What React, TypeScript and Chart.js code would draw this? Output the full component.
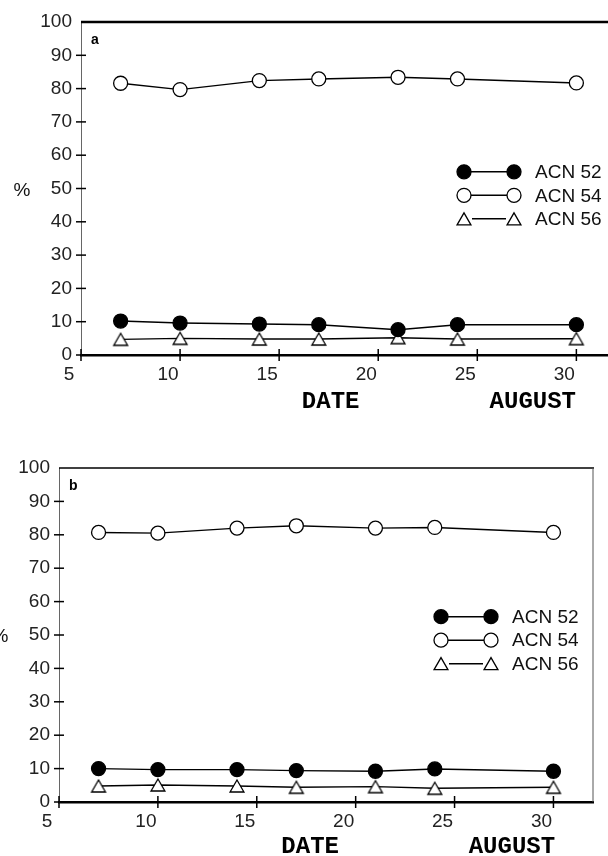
import React, { useEffect, useRef } from "react";
import { Chart, registerables } from "chart.js";

Chart.register(...registerables);

// ---- data ----
const DATES = [7, 10, 14, 17, 21, 24, 30];
const SERIES_NAMES = ["ACN 52", "ACN 54", "ACN 56"];

const A_ACN52 = [10.2, 9.6, 9.3, 9.1, 7.6, 9.1, 9.1];
const A_ACN54 = [81.6, 79.7, 82.4, 82.9, 83.4, 82.9, 81.7];
const A_ACN56 = [4.7, 5.0, 4.8, 4.8, 5.2, 4.8, 4.9];

const B_ACN52 = [10.0, 9.7, 9.7, 9.4, 9.2, 9.9, 9.2];
const B_ACN54 = [80.7, 80.5, 82.0, 82.7, 82.0, 82.2, 80.7];
const B_ACN56 = [4.8, 5.1, 4.8, 4.4, 4.6, 4.1, 4.4];

const X_TICKS = [5, 10, 15, 20, 25, 30];
const Y_TICKS = [0, 10, 20, 30, 40, 50, 60, 70, 80, 90, 100];
const PANEL_LABELS = ["a", "b"];
const X_TITLES = ["DATE", "AUGUST"];
const Y_TITLE = "%";

const TICK_FONT = { family: "'Liberation Sans', Arial, sans-serif", size: 19 };
const TRI_R = 8;

// triangle path whose bounding box is centred on (x, y)
function triPath(ctx: CanvasRenderingContext2D, x: number, y: number, r: number) {
  const dy = r / 4;
  for (let k = 0; k < 3; k++) {
    const a = (k * 2 * Math.PI) / 3;
    const px = x + Math.sin(a) * r;
    const py = y + dy - Math.cos(a) * r;
    if (k === 0) ctx.moveTo(px, py);
    else ctx.lineTo(px, py);
  }
  ctx.closePath();
}

function drawMarker(ctx: CanvasRenderingContext2D, kind: string, x: number, y: number, r: number, fill: string) {
  ctx.beginPath();
  if (kind === "triangle") triPath(ctx, x, y, r);
  else ctx.arc(x, y, r, 0, Math.PI * 2);
  ctx.fillStyle = fill;
  ctx.fill();
  ctx.strokeStyle = "#000";
  ctx.lineWidth = 1.3;
  ctx.stroke();
}

function makeTriangleImage(): HTMLCanvasElement {
  const c = document.createElement("canvas");
  c.width = 22;
  c.height = 22;
  const cx = c.getContext("2d") as CanvasRenderingContext2D;
  drawMarker(cx, "triangle", 11, 11, TRI_R, "#fff");
  return c;
}

const decoPlugin = {
  id: "deco",
  afterDraw(chart: any, _args: any, opts: any) {
    const { ctx, chartArea: ca } = chart;
    const xs = chart.scales.x;
    const ys = chart.scales.y;
    ctx.save();
    // top border
    ctx.strokeStyle = "#000";
    ctx.lineWidth = opts.topWidth;
    ctx.beginPath();
    ctx.moveTo(ca.left, ca.top);
    ctx.lineTo(ca.right + 1, ca.top);
    ctx.stroke();
    // right border
    if (opts.rightBorder) {
      ctx.strokeStyle = "#555";
      ctx.lineWidth = 1;
      ctx.beginPath();
      ctx.moveTo(ca.right, ca.top);
      ctx.lineTo(ca.right, ca.bottom);
      ctx.stroke();
    }
    // tick marks crossing the axes
    ctx.strokeStyle = "#000";
    ctx.lineWidth = 1.5;
    Y_TICKS.forEach((v) => {
      if (v === 100) return;
      const py = ys.getPixelForValue(v);
      ctx.beginPath();
      ctx.moveTo(ca.left - 5, py);
      ctx.lineTo(ca.left + 5, py);
      ctx.stroke();
    });
    X_TICKS.forEach((v) => {
      const px = xs.getPixelForValue(v);
      ctx.beginPath();
      ctx.moveTo(px, ca.bottom - 6);
      ctx.lineTo(px, ca.bottom + 6);
      ctx.stroke();
    });
    // panel label
    ctx.fillStyle = "#000";
    ctx.font = "bold 14px 'Liberation Sans', Arial, sans-serif";
    ctx.textAlign = "left";
    ctx.textBaseline = "middle";
    ctx.fillText(opts.panelLabel, ca.left + 10, ca.top + 18);
    // y title
    ctx.font = "19px 'Liberation Sans', Arial, sans-serif";
    ctx.textAlign = "center";
    ctx.fillStyle = "#111";
    ctx.fillText(Y_TITLE, ca.left - 59, ys.getPixelForValue(50) + 2);
    // x titles
    ctx.font = "bold 24px 'Liberation Mono', 'Courier New', monospace";
    ctx.fillStyle = "#000";
    ctx.fillText(X_TITLES[0], xs.getPixelForValue(opts.dateAt), ca.bottom + opts.titleDy);
    ctx.fillText(X_TITLES[1], xs.getPixelForValue(opts.augustAt), ca.bottom + opts.titleDy);
    // legend
    const y0 = ys.getPixelForValue(opts.legendAt);
    chart.data.datasets.forEach((ds: any, i: number) => {
      const ry = y0 + i * 23.5;
      const x1 = ca.right - 152;
      const x2 = ca.right - 102;
      const kind = ds.markerKind;
      const r = kind === "triangle" ? TRI_R : 7;
      ctx.strokeStyle = "#000";
      ctx.lineWidth = 1.5;
      ctx.beginPath();
      ctx.moveTo(x1 + r, ry);
      ctx.lineTo(x2 - r, ry);
      ctx.stroke();
      drawMarker(ctx, kind, x1, ry, r, ds.pointBackgroundColor);
      drawMarker(ctx, kind, x2, ry, r, ds.pointBackgroundColor);
      ctx.fillStyle = "#111";
      ctx.font = "19px 'Liberation Sans', Arial, sans-serif";
      ctx.textAlign = "left";
      ctx.textBaseline = "middle";
      ctx.fillText(ds.label, ca.right - 81, ry + 1);
    });
    ctx.restore();
  },
};

function makeDatasets(v52: number[], v54: number[], v56: number[], tri: HTMLCanvasElement) {
  const mk = (label: string, vals: number[], kind: string, style: any, fill: string, radius: number) => ({
    label,
    markerKind: kind,
    data: DATES.map((d, i) => ({ x: d, y: vals[i] })),
    borderColor: "#000",
    borderWidth: 1.4,
    pointStyle: style,
    pointRadius: radius,
    pointBackgroundColor: fill,
    pointBorderColor: "#000",
    pointBorderWidth: 1.3,
    showLine: true,
    tension: 0,
    fill: false,
  });
  return [
    mk(SERIES_NAMES[0], v52, "circle", "circle", "#000", 7),
    mk(SERIES_NAMES[1], v54, "circle", "circle", "#fff", 7),
    mk(SERIES_NAMES[2], v56, "triangle", tri, "#fff", TRI_R),
  ];
}

function makeConfig(p: any): any {
  const tri = makeTriangleImage();
  return {
    type: "scatter",
    data: { datasets: makeDatasets(p.v52, p.v54, p.v56, tri) },
    options: {
      animation: false,
      responsive: false,
      devicePixelRatio: 1,
      layout: { padding: { top: p.top, right: p.right, left: 0, bottom: 0 } },
      plugins: {
        legend: { display: false },
        tooltip: { enabled: false },
        deco: {
          topWidth: p.topWidth,
          rightBorder: p.rightBorder,
          panelLabel: p.label,
          dateAt: p.dateAt,
          augustAt: p.augustAt,
          legendAt: p.legendAt,
          titleDy: p.titleDy,
        },
      },
      scales: {
        x: {
          type: "linear",
          min: 5,
          max: 32,
          afterBuildTicks: (s: any) => {
            s.ticks = X_TICKS.map((v) => ({ value: v }));
          },
          afterFit: (s: any) => {
            s.height = p.xHeight;
          },
          grid: { display: false, drawTicks: false },
          border: { display: true, color: "#000", width: 2.5 },
          ticks: {
            font: TICK_FONT,
            color: "#222",
            padding: 8,
            labelOffset: -12,
            maxRotation: 0,
            autoSkip: false,
          },
        },
        y: {
          type: "linear",
          min: 0,
          max: 100,
          afterBuildTicks: (s: any) => {
            s.ticks = Y_TICKS.map((v) => ({ value: v }));
          },
          afterFit: (s: any) => {
            s.width = p.yWidth;
          },
          grid: { display: false, drawTicks: false },
          border: { display: true, color: "#666", width: 1 },
          ticks: { font: TICK_FONT, color: "#222", padding: 9, autoSkip: false },
        },
      },
    },
    plugins: [decoPlugin],
  };
}

function Panel(props: { p: any; w: number; h: number; top: number }) {
  const ref = useRef<HTMLCanvasElement | null>(null);
  useEffect(() => {
    if (!ref.current) return;
    const chart = new Chart(ref.current, makeConfig(props.p));
    return () => chart.destroy();
  }, []);
  return (
    <canvas
      ref={ref}
      width={props.w}
      height={props.h}
      style={{ position: "absolute", left: 0, top: props.top, width: props.w, height: props.h }}
    />
  );
}

export default function App() {
  const pa = {
    v52: A_ACN52, v54: A_ACN54, v56: A_ACN56,
    top: 22, right: 14, yWidth: 81, xHeight: 65,
    topWidth: 2.5, rightBorder: false, label: PANEL_LABELS[0],
    dateAt: 17.6, augustAt: 27.8, legendAt: 55, titleDy: 47,
  };
  const pb = {
    v52: B_ACN52, v54: B_ACN54, v56: B_ACN56,
    top: 28, right: 15, yWidth: 59, xHeight: 54,
    topWidth: 1.5, rightBorder: true, label: PANEL_LABELS[1],
    dateAt: 17.7, augustAt: 27.9, legendAt: 55.5, titleDy: 45,
  };
  return (
    <div
      style={{
        position: "absolute",
        left: 0,
        top: 0,
        width: 608,
        height: 856,
        overflow: "hidden",
        background: "#fff",
      }}
    >
      <Panel p={pa} w={630} h={420} top={0} />
      <Panel p={pb} w={608} h={416} top={440} />
    </div>
  );
}
